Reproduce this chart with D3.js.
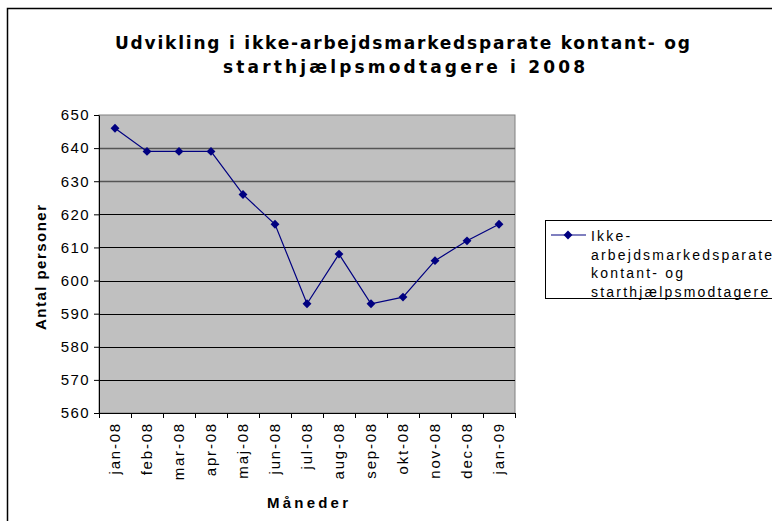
<!DOCTYPE html>
<html>
<head>
<meta charset="utf-8">
<script src="https://cdn.jsdelivr.net/npm/d3@7"></script>
<style>
  body { margin: 0; background: #fff; }
  svg { display: block; font-family: "Liberation Sans", Arial, sans-serif; }
</style>
</head>
<body>
<svg id="chart" width="772" height="521"></svg>
<script>
// months (x categories)
var months = ["jan-08", "feb-08", "mar-08", "apr-08", "maj-08", "jun-08", "jul-08",
    "aug-08", "sep-08", "okt-08", "nov-08", "dec-08", "jan-09"];
// number of persons per month
var persons = [646, 639, 639, 639, 626, 617, 593, 608, 593, 595, 606, 612, 617];
var yTicks = [560, 570, 580, 590, 600, 610, 620, 630, 640, 650];
var seriesName = ["Ikke-", "arbejdsmarkedsparate", "kontant- og", "starthjælpsmodtagere"];

var svg = d3.select("#chart");
var plotLeft = 99, plotRight = 515, plotTop = 115, plotBottom = 413;

// outer frame
svg.append("rect")
    .attr("x", 7.5).attr("y", 8.5)
    .attr("width", 800).attr("height", 600)
    .attr("fill", "#fff").attr("stroke", "#000").attr("stroke-width", 1.5);

svg.append("text")
    .attr("x", 115).attr("y", 49)
    .attr("textLength", 575).attr("lengthAdjust", "spacing")
    .attr("font-family", "DejaVu Sans, Verdana, sans-serif")
    .attr("font-weight", "bold").attr("font-size", 17)
    .text("Udvikling i ikke-arbejdsmarkedsparate kontant- og");
svg.append("text")
    .attr("x", 223).attr("y", 73)
    .attr("textLength", 362).attr("lengthAdjust", "spacing")
    .attr("font-family", "DejaVu Sans, Verdana, sans-serif")
    .attr("font-weight", "bold").attr("font-size", 17)
    .text("starthjælpsmodtagere i 2008");

var x = d3.scaleBand().domain(months).range([plotLeft, plotRight]);
var y = d3.scaleLinear().domain([560, 650]).range([plotBottom, plotTop]);

// plot area
svg.append("rect")
    .attr("x", plotLeft).attr("y", plotTop)
    .attr("width", plotRight - plotLeft).attr("height", plotBottom - plotTop)
    .attr("fill", "#c0c0c0").attr("stroke", "#808080");

// grid lines
svg.append("g")
    .selectAll("line")
    .data(yTicks.slice(1, -1))
    .enter()
    .append("line")
    .attr("x1", plotLeft).attr("x2", plotRight)
    .attr("y1", function (d) { return Math.round(y(d)) + 0.5; })
    .attr("y2", function (d) { return Math.round(y(d)) + 0.5; })
    .attr("stroke", function (d) { return d >= 630 ? "#555" : "#000"; })
    .attr("stroke-width", function (d) { return d >= 630 ? 1.5 : 1; });

// y axis
var yAxis = svg.append("g")
    .attr("transform", "translate(" + plotLeft + ",0)")
    .call(d3.axisLeft(y).tickValues(yTicks).tickSize(5).tickPadding(4).tickSizeOuter(0));
yAxis.select(".domain").attr("stroke", "#000");
yAxis.selectAll("text")
    .attr("font-size", 15)
    .attr("letter-spacing", 1.4)
    .attr("font-family", "Liberation Sans, Arial")
    .attr("fill", "#000");

// x axis: ticks between categories
var xAxis = svg.append("g")
    .attr("transform", "translate(0," + plotBottom + ")");
xAxis.append("line")
    .attr("x1", plotLeft).attr("x2", plotRight)
    .attr("y1", 0.5).attr("y2", 0.5)
    .attr("stroke", "#000");
xAxis.selectAll(".tk")
    .data(months.concat(["end"]))
    .enter()
    .append("line")
    .attr("class", "tk")
    .attr("x1", function (d, i) { return Math.round(plotLeft + i * x.bandwidth()) + 0.5; })
    .attr("x2", function (d, i) { return Math.round(plotLeft + i * x.bandwidth()) + 0.5; })
    .attr("y1", 0).attr("y2", 5)
    .attr("stroke", "#000");
xAxis.selectAll(".lbl")
    .data(months)
    .enter()
    .append("text")
    .attr("class", "lbl")
    .attr("transform", function (d) {
        return "translate(" + (x(d) + x.bandwidth() / 2 + 5) + ",9) rotate(-90)";
    })
    .attr("text-anchor", "end")
    .attr("font-size", 15)
    .attr("letter-spacing", 1.8)
    .text(function (d) { return d; });

// axis titles
svg.append("text")
    .attr("transform", "translate(46,330) rotate(-90)")
    .attr("textLength", 125).attr("lengthAdjust", "spacing")
    .attr("font-weight", "bold").attr("font-size", 15)
    .text("Antal personer");
svg.append("text")
    .attr("x", 267).attr("y", 508)
    .attr("textLength", 81).attr("lengthAdjust", "spacing")
    .attr("font-weight", "bold").attr("font-size", 15)
    .text("Måneder");

// series line
var line = d3.line()
    .x(function (d, i) { return x(months[i]) + x.bandwidth() / 2; })
    .y(function (d) { return y(d); });
svg.append("path")
    .datum(persons)
    .attr("d", line)
    .attr("fill", "none")
    .attr("stroke", "#000080")
    .attr("stroke-width", 1.2);

var diamond = d3.symbol().type(d3.symbolDiamond2).size(50);
svg.append("g")
    .selectAll("path")
    .data(persons)
    .enter()
    .append("path")
    .attr("d", diamond)
    .attr("transform", function (d, i) {
        return "translate(" + (x(months[i]) + x.bandwidth() / 2) + "," + y(d) + ")";
    })
    .attr("fill", "#000080");

// legend
var legend = svg.append("g").attr("class", "legend");
legend.append("rect")
    .attr("x", 545.5).attr("y", 220.5)
    .attr("width", 300).attr("height", 78)
    .attr("fill", "#fff").attr("stroke", "#000");
legend.append("line")
    .attr("x1", 551).attr("x2", 586)
    .attr("y1", 235).attr("y2", 235)
    .attr("stroke", "#000080").attr("stroke-width", 1.2);
legend.append("path")
    .attr("d", diamond)
    .attr("transform", "translate(568,235)")
    .attr("fill", "#000080");
legend.selectAll("text")
    .data(seriesName)
    .enter()
    .append("text")
    .attr("x", 591)
    .attr("y", function (d, i) { return 241 + i * 18.5; })
    .attr("font-size", 14)
    .attr("letter-spacing", 2.2)
    .text(function (d) { return d; });
</script>
</body>
</html>
